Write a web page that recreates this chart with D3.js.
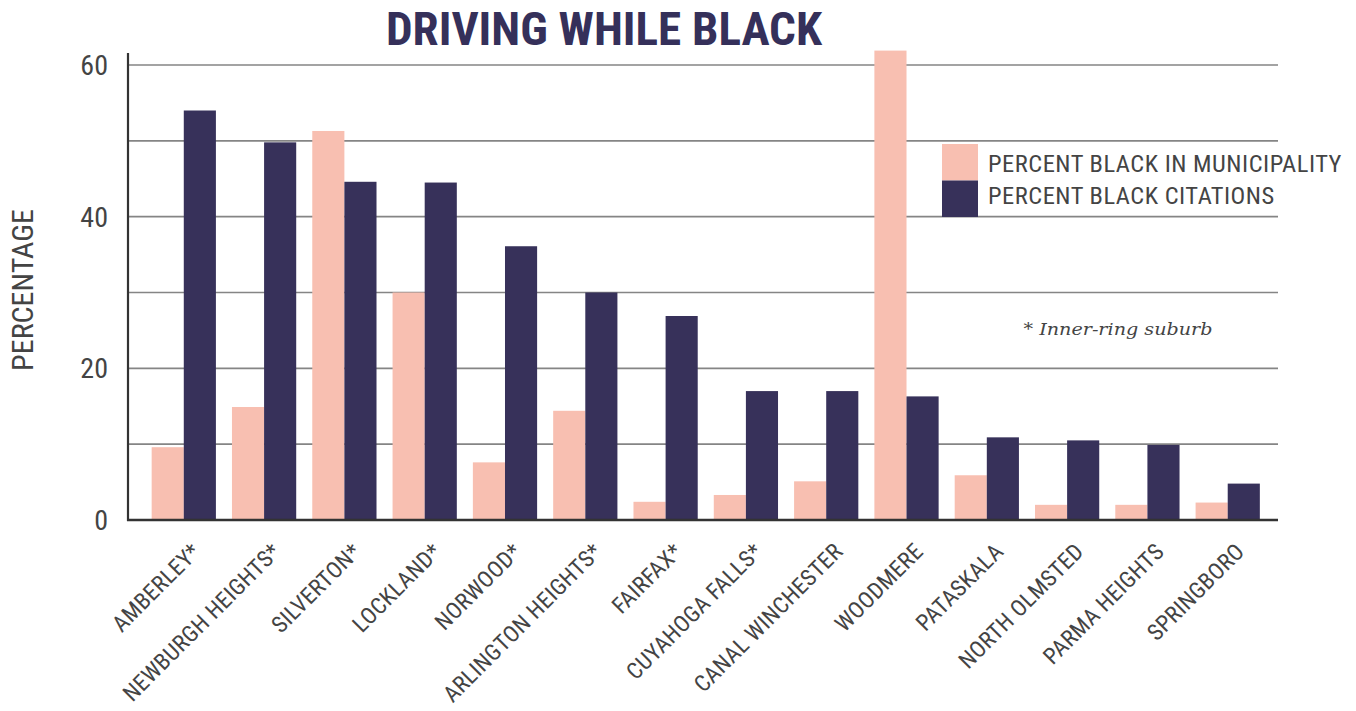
<!DOCTYPE html>
<html><head><meta charset="utf-8">
<script src="https://cdn.jsdelivr.net/npm/d3@7"></script>
<style>body{margin:0;background:#fff;}svg{display:block;}</style>
</head><body>
<script>
const categories = ["AMBERLEY*","NEWBURGH HEIGHTS*","SILVERTON*","LOCKLAND*","NORWOOD*","ARLINGTON HEIGHTS*","FAIRFAX*","CUYAHOGA FALLS*","CANAL WINCHESTER","WOODMERE","PATASKALA","NORTH OLMSTED","PARMA HEIGHTS","SPRINGBORO"];
const pctBlackMunicipality = [9.6,14.9,51.3,30.0,7.6,14.4,2.4,3.3,5.1,61.9,5.9,2.0,2.0,2.3];
const pctBlackCitations = [54.0,49.8,44.6,44.5,36.1,30.0,26.9,17.0,17.0,16.3,10.9,10.5,9.9,4.8];
const seriesNames = ["PERCENT BLACK IN MUNICIPALITY","PERCENT BLACK CITATIONS"];
const yTicks = [0,20,40,60];
const yGrid = [0,10,20,30,40,50,60];

const W = 1356, H = 711;
const colors = ["#f8bfb1","#37315a"];
const condensed = "'Liberation Sans Narrow','Arial Narrow','Roboto Condensed',sans-serif";

const svg = d3.select("body").append("svg").attr("width",W).attr("height",H);

const x0 = d3.scaleBand().domain(categories).range([135.6,1275.9]).paddingInner(0.2).paddingOuter(0.2);
const x1 = d3.scaleBand().domain([0,1]).range([0,x0.bandwidth()]);
const y = d3.scaleLinear().domain([0,60]).range([520,65]);

// gridlines
svg.append("g").selectAll("line").data(yGrid.filter(d=>d>0)).join("line")
  .attr("x1",128).attr("x2",1278).attr("y1",d=>y(d)).attr("y2",d=>y(d))
  .attr("stroke","#858585").attr("stroke-width",1.6);

// bars
const groups = svg.append("g").selectAll("g").data(categories).join("g")
  .attr("transform",d=>`translate(${x0(d)},0)`);
groups.append("rect").attr("x",x1(0)).attr("width",x1.bandwidth())
  .attr("y",(d,i)=>y(pctBlackMunicipality[i])).attr("height",(d,i)=>y(0)-y(pctBlackMunicipality[i]))
  .attr("fill",colors[0]);
groups.append("rect").attr("x",x1(1)).attr("width",x1.bandwidth())
  .attr("y",(d,i)=>y(pctBlackCitations[i])).attr("height",(d,i)=>y(0)-y(pctBlackCitations[i]))
  .attr("fill",colors[1]);

// axes lines
svg.append("line").attr("x1",128).attr("x2",128).attr("y1",53).attr("y2",521).attr("stroke","#333").attr("stroke-width",2.2);
svg.append("line").attr("x1",127).attr("x2",1278).attr("y1",520).attr("y2",520).attr("stroke","#333").attr("stroke-width",2.6);

// y tick labels
svg.append("g").selectAll("text").data(yTicks).join("text")
  .attr("x",108).attr("y",d=>y(d)).attr("dy","0.36em").attr("text-anchor","end")
  .attr("font-family",condensed).attr("font-size",28).attr("fill","#444").text(d=>d);

// y title
svg.append("text").attr("transform","translate(33,290) rotate(-90)").attr("text-anchor","middle")
  .attr("font-family",condensed).attr("font-size",30).attr("fill","#444").text("PERCENTAGE");

// x labels
svg.append("g").selectAll("text").data(categories).join("text")
  .attr("transform",d=>`translate(${x0(d)+x0.bandwidth()/2+18},553) rotate(-45)`)
  .attr("text-anchor","end").attr("font-family",condensed).attr("font-size",23)
  .attr("letter-spacing",0.3).attr("fill","#444")
  .text(d=>d);

// title
svg.append("text").attr("x",604).attr("y",45).attr("text-anchor","middle")
  .attr("font-family",condensed).attr("font-weight","bold").attr("font-size",46).attr("fill","#35305a")
  .attr("textLength",436).attr("lengthAdjust","spacingAndGlyphs")
  .text("DRIVING WHILE BLACK");

// legend
const leg = svg.append("g").selectAll("g").data(seriesNames).join("g")
  .attr("transform",(d,i)=>`translate(942,${144+i*36.5})`);
leg.append("rect").attr("width",36).attr("height",36.5).attr("fill",(d,i)=>colors[i]);
leg.append("text").attr("x",46).attr("y",(d,i)=>27.5-i*4).attr("font-family",condensed).attr("font-size",24.5)
  .attr("letter-spacing",0.5).attr("fill","#444").text(d=>d);

// annotation
svg.append("text").attr("x",1118).attr("y",335).attr("text-anchor","middle")
  .attr("font-family","'DejaVu Serif','Liberation Serif',serif").attr("font-style","italic").attr("font-size",17)
  .attr("textLength",189).attr("lengthAdjust","spacingAndGlyphs")
  .attr("fill","#444").text("* Inner-ring suburb");
</script>
</body></html>
